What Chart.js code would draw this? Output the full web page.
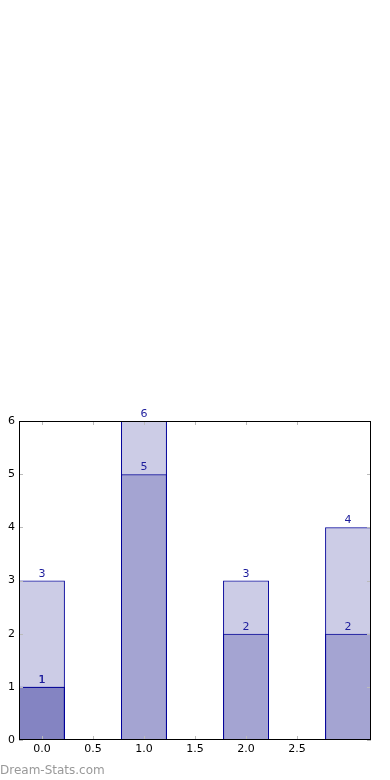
<!DOCTYPE html>
<html>
<head>
<meta charset="utf-8">
<script src="https://cdn.jsdelivr.net/npm/chart.js@4.4.1/dist/chart.umd.min.js"></script>
<style>
	html, body { margin: 0; padding: 0; background: #fff; }
	#wrap { position: relative; width: 390px; height: 780px; }
	#watermark {
		position: absolute; left: 0; top: 763px;
		font: 12px "DejaVu Sans", sans-serif; color: #999;
		line-height: 14px;
	}
</style>
</head>
<body>
<div id="wrap">
	<canvas id="chart-1" width="390" height="780"></canvas>
	<div id="watermark">Dream-Stats.com</div>
</div>
<script>
const xPositions = [0, 1, 2, 3];
const seriesTotal = [3, 6, 3, 4];
const seriesPart = [1, 5, 2, 2];
const seriesBase = [1, null, null, null];
const xTickValues = [0, 0.5, 1, 1.5, 2, 2.5];
const yTickValues = [0, 1, 2, 3, 4, 5, 6];

const fillColor = "rgba(0, 0, 128, 0.2)";
const edgeColor = "#00009a";

function toPoints(values) {
	const pts = [];
	for (let i = 0; i < values.length; i++) {
		if (values[i] !== null) pts.push({x: xPositions[i], y: values[i]});
	}
	return pts;
}

function makeDataset(values) {
	return {
		data: toPoints(values),
		backgroundColor: fillColor,
		borderColor: edgeColor,
		borderWidth: 1,
		borderSkipped: false,
		grouped: false,
		categoryPercentage: 0.9,//min spacing is the 0.5 tick step, so bar = 0.45
		barPercentage: 1.0
	};
}

// frame, inward tick marks and value labels (matplotlib look)
const decorations = {
	id: "decorations",
	afterDatasetsDraw(chart) {
		const ctx = chart.ctx;
		const area = chart.chartArea;
		const xs = chart.scales.x;
		const ys = chart.scales.y;
		ctx.save();

		ctx.strokeStyle = "#bbbbbb";
		ctx.lineWidth = 1;
		ctx.beginPath();
		for (const v of xTickValues) {
			const px = Math.round(xs.getPixelForValue(v)) + 0.5;
			ctx.moveTo(px, area.bottom);
			ctx.lineTo(px, area.bottom - 4);
			ctx.moveTo(px, area.top);
			ctx.lineTo(px, area.top + 4);
		}
		for (const v of yTickValues) {
			const py = Math.round(ys.getPixelForValue(v)) + 0.5;
			ctx.moveTo(area.left, py);
			ctx.lineTo(area.left + 4, py);
			ctx.moveTo(area.right, py);
			ctx.lineTo(area.right - 4, py);
		}
		ctx.stroke();

		ctx.strokeStyle = "#000";
		ctx.strokeRect(area.left + 0.5, area.top + 0.5, area.right - area.left - 1, area.bottom - area.top - 1);

		ctx.fillStyle = "#1c1c9c";
		ctx.font = "11px 'DejaVu Sans'";
		ctx.textAlign = "center";
		ctx.textBaseline = "alphabetic";
		chart.data.datasets.forEach((ds, i) => {
			const meta = chart.getDatasetMeta(i);
			meta.data.forEach((bar, j) => {
				ctx.fillText(String(ds.data[j].y), bar.x, bar.y - 4);
			});
		});
		ctx.restore();
	}
};

new Chart("chart-1", {
	type: "bar",
	data: {
		datasets: [makeDataset(seriesTotal), makeDataset(seriesPart), makeDataset(seriesBase)]
	},
	options: {
		responsive: false,
		animation: false,
		layout: {padding: {top: 421, right: 19, bottom: 20, left: 0}},
		plugins: {legend: {display: false}, tooltip: {enabled: false}},
		scales: {
			x: {
				type: "linear",
				offset: false,
				min: -0.225,
				max: 3.225,
				grid: {display: false, drawTicks: false, offset: false},
				border: {display: false},
				afterBuildTicks: (scale) => { scale.ticks = xTickValues.map(v => ({value: v})); },
				afterFit: (scale) => { scale.height = 20; },
				ticks: {
					padding: 3,
					color: "#000",
					font: {family: "DejaVu Sans", size: 11},
					maxRotation: 0,
					autoSkip: false,
					callback: (v) => Number(v).toFixed(1)
				}
			},
			y: {
				min: 0,
				max: 6,
				grid: {display: false, drawTicks: false},
				border: {display: false},
				afterBuildTicks: (scale) => { scale.ticks = yTickValues.map(v => ({value: v})); },
				afterFit: (scale) => { scale.width = 19; },
				ticks: {
					padding: 4,
					color: "#000",
					font: {family: "DejaVu Sans", size: 11}
				}
			}
		}
	},
	plugins: [decorations]
});
</script>
</body>
</html>
